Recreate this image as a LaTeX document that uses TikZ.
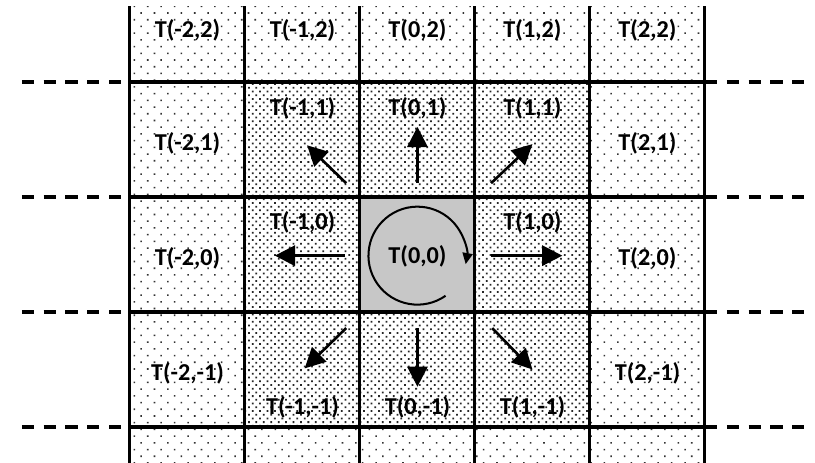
\documentclass[tikz,border=0pt]{standalone}
\usepackage{fontspec}
\setmainfont{Carlito}
\usetikzlibrary{arrows.meta,patterns.meta}

\begin{document}
\begin{tikzpicture}[x=2cm, y=2cm,
  lab/.style={font=\fontsize{12}{14}\selectfont\bfseries, inner sep=0pt},
  gridline/.style={line width=1.5pt},
  ext/.style={line width=1.6pt, dash pattern=on 6pt off 4.8pt},
  move/.style={line width=1.3pt, -{Triangle[length=10pt,width=10pt]}},
  turn/.style={line width=1pt, -{Triangle[length=5.5pt,width=5pt]}}]

\useasboundingbox (-3.63,-1.813) rectangle (3.457,2.213);

% Fonds
\fill[pattern={Dots[distance=4.7pt, angle=45, radius=0.55pt]}, pattern color=black!80] (-2.5,-1.813) rectangle (2.5,2.16);
\fill[white] (-1.5,-1.5) rectangle (1.5,1.5);
\fill[pattern={Dots[distance=2.6pt, angle=45, radius=0.62pt]}, pattern color=black!85] (-1.5,-1.5) rectangle (1.5,1.5);
\fill[black!22] (-0.5,-0.5) rectangle (0.5,0.5);

% Grille
\foreach \x in {-2.5,-1.5,...,2.5}
  \draw[gridline] (\x,2.16) -- (\x,-1.813);
\foreach \y in {1.5,0.5,-0.5,-1.5} {
  \draw[gridline] (-2.5,\y) -- (2.5,\y);
  \draw[ext] (-3.44,\y) -- (-2.5,\y);
  \draw[ext] (2.5,\y) -- (3.44,\y);
}

% Etiquettes
\foreach \i in {-2,...,2}
  \node[lab] (t\i2) at (\i,1.95) {T(\i,2)};
\foreach \i in {-2,2}
  \foreach \j in {1,0,-1}
    \node[lab] (t\i\j) at (\i,\j-0.03) {T(\i,\j)};
\foreach \i/\j/\y in {-1/1/1.27, 0/1/1.27, 1/1/1.27, -1/0/0.28, 1/0/0.28,
                      -1/-1/-1.33, 0/-1/-1.33, 1/-1/-1.33}
  \node[lab] (t\i\j) at (\i,\y) {T(\i,\j)};
\node[lab] (t00) at (0,-0.02) {T(0,0)};

% Deplacements
\foreach \n/\sx/\sy/\ex/\ey in {nw/-0.62/0.62/-0.96/0.95, n/0/0.62/0/1.11,
    ne/0.64/0.62/1.0/0.96, w/-0.63/-0.01/-1.24/-0.01, e/0.64/-0.01/1.26/-0.01,
    sw/-0.62/-0.64/-0.98/-0.99, s/0/-0.64/0/-1.15, se/0.65/-0.64/1.0/-1.0} {
  \coordinate (\n a) at (\sx,\sy);
  \coordinate (\n b) at (\ex,\ey);
  \draw[move] (\n a) -- (\n b);
}

% Rotation
\coordinate (o) at (0,-0.01);
\draw[turn] ([shift={(-55:0.426)}]o) arc[start angle=-55, end angle=-370, radius=0.426];

\end{tikzpicture}
\end{document}
